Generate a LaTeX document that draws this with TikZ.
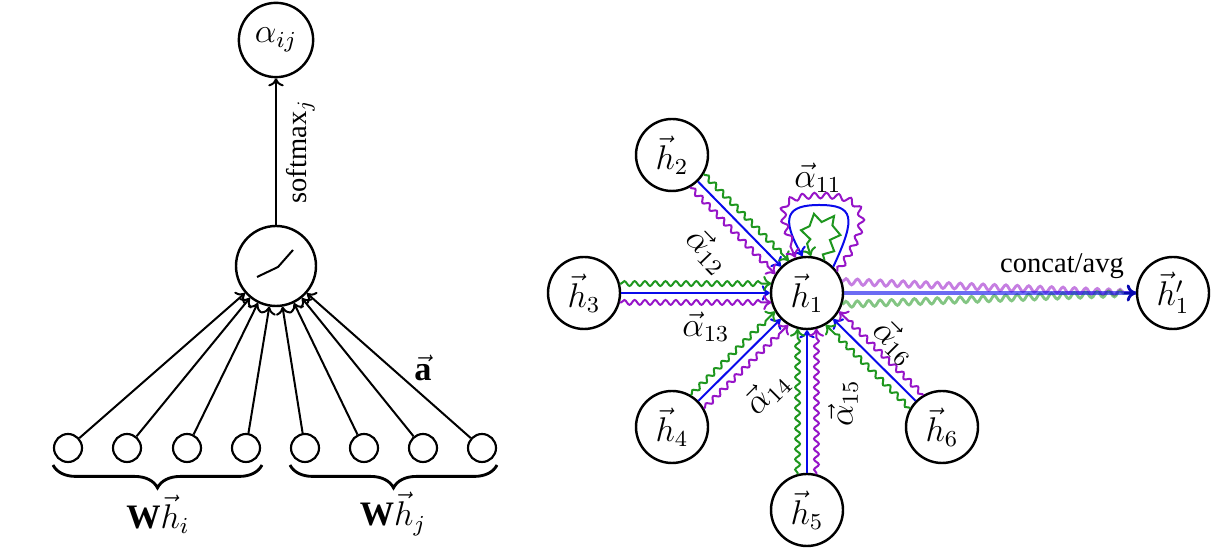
\documentclass[tikz,border=0pt]{standalone}
\usepackage{fontspec}
\setmainfont{Liberation Serif}
\usetikzlibrary{calc,arrows.meta,decorations.pathmorphing,decorations.pathreplacing}
\definecolor{gG}{RGB}{30,150,30}
\definecolor{gB}{RGB}{10,10,235}
\definecolor{gP}{RGB}{150,20,200}
\begin{document}
\begin{tikzpicture}[x=0.35pt,y=0.35pt,
  >={To[length=2.8pt,width=5.4pt]},
  every node/.style={font=\large},
  bignode/.style={circle,draw,line width=0.85pt,minimum size=25.2pt,inner sep=0pt},
  smallnode/.style={circle,draw,line width=0.75pt,minimum size=9.8pt,inner sep=0pt},
  conn/.style={->,line width=0.7pt},
  blueedge/.style={->,gB,line width=0.7pt},
  snk/.style={line width=0.7pt,decorate,decoration={snake,amplitude=0.85pt,segment length=3.6pt,post length=3pt,pre length=0.5pt}},
  greenedge/.style={->,snk,gG},
  purpleedge/.style={->,snk,gP},
  txt/.style={font=\normalsize},
]
\useasboundingbox (0,0) rectangle (1229,552);
% ---------- left part ----------
\node[bignode,minimum size=26pt] (aij) at (276,512) {$\alpha_{ij}$};
\node[bignode,minimum size=28pt] (act) at (276,286) {};
\draw[line width=0.7pt] ($(act)+(-19,-11)$) -- ($(act)+(2,-1)$) -- ($(act)+(17,16)$);
\foreach \x [count=\i] in {68,127,187,246,305,364,423,482} {
  \node[smallnode] (in\i) at (\x,104) {};
  \draw[conn] (in\i) -- (act);
}
\draw[conn] (act) -- node[midway,below,sloped,txt] (smx) {softmax$_j$} (aij);
\draw[decorate,decoration={brace,mirror,amplitude=8pt},line width=1pt] (53,87) -- (262,87);
\draw[decorate,decoration={brace,mirror,amplitude=8pt},line width=1pt] (290,87) -- (497,87);
\node (wi) at (158,38) {$\mathbf{W}\vec{h}_i$};
\node (wj) at (393,38) {$\mathbf{W}\vec{h}_j$};
\node (avec) at (423,184) {$\vec{\mathbf{a}}$};
% ---------- right part ----------
\node[bignode] (h1) at (807,259) {$\vec{h}_1$};
\node[bignode] (h2) at (672,397) {$\vec{h}_2$};
\node[bignode] (h3) at (584,259) {$\vec{h}_3$};
\node[bignode] (h4) at (672,125) {$\vec{h}_4$};
\node[bignode] (h5) at (807,42) {$\vec{h}_5$};
\node[bignode] (h6) at (942,125) {$\vec{h}_6$};
\node[bignode] (h1p) at (1173,259) {$\vec{h}'_1$};
\foreach \k in {2,...,6} {
  \coordinate (s\k) at ($(h\k)!12.5pt!(h1)$);
  \coordinate (e\k) at ($(h1)!12.5pt!(h\k)$);
  \coordinate (gs\k) at ($(s\k)!3.3pt!90:(h1)$);
  \coordinate (ge\k) at ($(e\k)!3.3pt!-90:(h\k)$);
  \coordinate (ps\k) at ($(s\k)!3.3pt!-90:(h1)$);
  \coordinate (pe\k) at ($(e\k)!3.3pt!90:(h\k)$);
  \draw[blueedge] (h\k) -- (h1);
  \draw[greenedge] (gs\k) -- (ge\k);
  \draw[purpleedge] (ps\k) -- (pe\k);
}
% self loops
\draw[->,gG,line width=0.7pt,decorate,decoration={zigzag,amplitude=1.5pt,segment length=5.8pt,post length=3pt}]
  (h1.62) .. controls +(60:38) and +(0:20) .. ($(h1)+(12,75)$) .. controls +(180:17) and +(110:22) .. (h1.84);
\draw[blueedge] (h1.45) .. controls +(65:55) and +(0:35) .. ($(h1)+(12,88)$) .. controls +(180:32) and +(120:45) .. (h1.97);
\draw[->,gP,line width=0.7pt,decorate,decoration={snake,amplitude=1pt,segment length=4.2pt,post length=3pt}]
  (h1.35) .. controls +(55:60) and +(0:45) .. ($(h1)+(14,95)$) .. controls +(180:45) and +(115:55) .. (h1.108);
% output
\draw[gP,opacity=.55,line width=1pt,decorate,decoration={snake,amplitude=1.05pt,segment length=4pt,post length=3pt}] (h1.18) -- (h1p.west);
\draw[gG,opacity=.55,line width=1pt,decorate,decoration={snake,amplitude=1.05pt,segment length=4pt,post length=3pt}] (h1.-18) -- (h1p.west);
\draw[gB,opacity=.6,line width=1.2pt] (h1.east) -- (h1p.west);
\draw[-{To[length=3.2pt,width=6pt]},gB!75!black,line width=1pt] ($(h1p.west)+(-12,0)$) -- (h1p.west);
\node[txt] (cat) at (1062,286) {concat/avg};
% labels
\node[rotate=-46] (a12) at (708,301) {$\vec{\alpha}_{12}$};
\node (a13) at (706,225) {$\vec{\alpha}_{13}$};
\node[rotate=45] (a14) at (767,159) {$\vec{\alpha}_{14}$};
\node[rotate=90] (a15) at (843,149) {$\vec{\alpha}_{15}$};
\node[rotate=-45] (a16) at (895,210) {$\vec{\alpha}_{16}$};
\node (a11) at (818,374) {$\vec{\alpha}_{11}$};
\end{tikzpicture}
\end{document}
